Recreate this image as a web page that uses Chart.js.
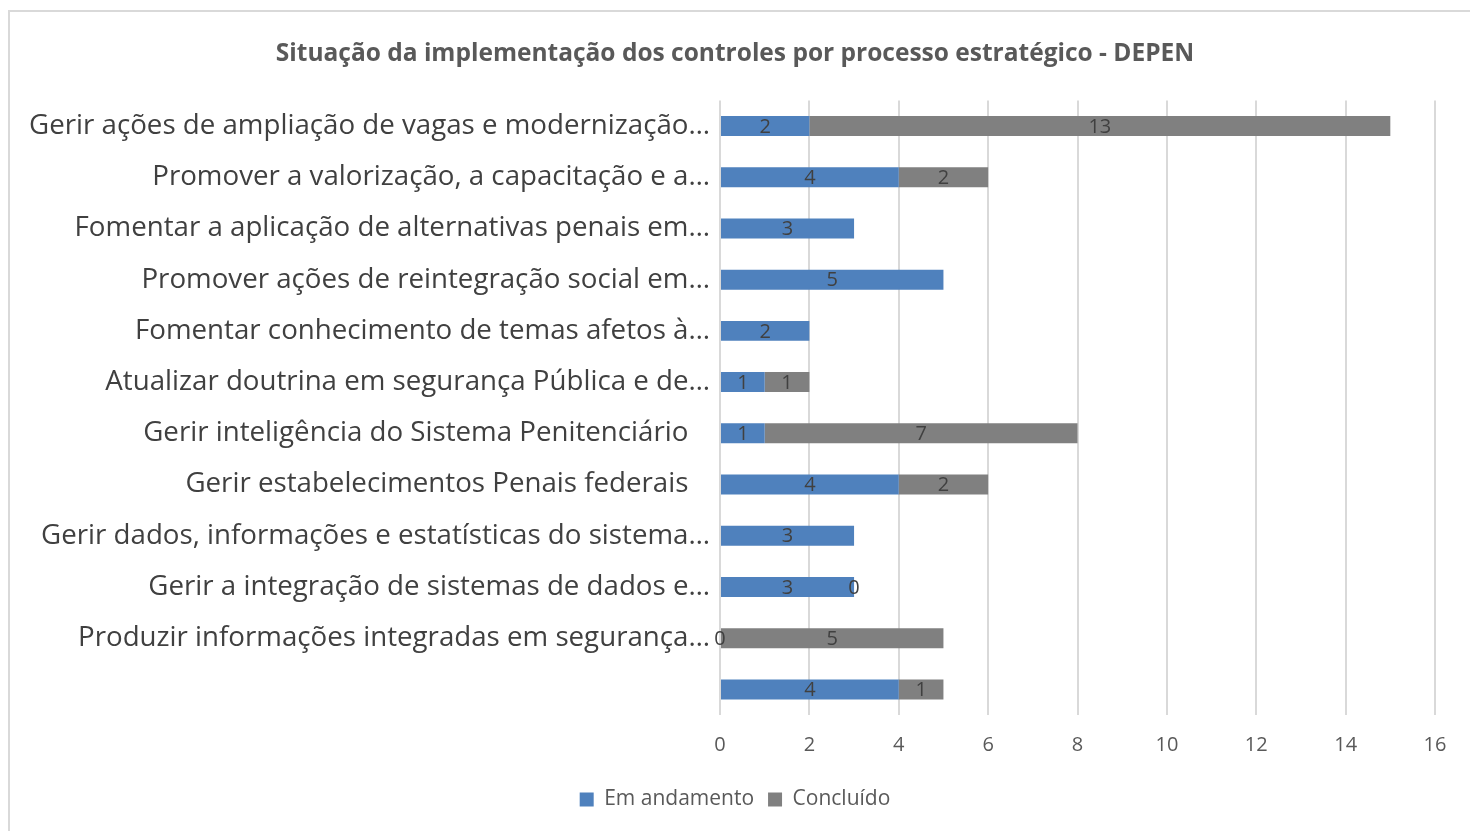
<!DOCTYPE html>
<html>
<head>
<meta charset="utf-8">
<script src="https://cdn.jsdelivr.net/npm/chart.js@4"></script>
<style>
    html, body { margin: 0; padding: 0; background: #ffffff; overflow: hidden; }
    #frame {
        position: absolute;
        left: 8px;
        top: 10px;
        width: 1480px;
        height: 840px;
        border: 2px solid #d9d9d9;
        box-sizing: border-box;
    }
    #wrap { position: absolute; left: 0; top: 0; width: 1470px; height: 831px; }
</style>
</head>
<body>
<div id="frame"></div>
<div id="wrap"><canvas id="chart" width="1470" height="831"></canvas></div>
<script>
// ==================== Data ====================

const categories = [
    'Gerir ações de ampliação de vagas e modernização…',
    'Promover a valorização, a capacitação e a…',
    'Fomentar a aplicação de alternativas penais em…',
    'Promover ações de reintegração social em…',
    'Fomentar conhecimento de temas afetos à…',
    'Atualizar doutrina em segurança Pública e de…',
    'Gerir inteligência do Sistema Penitenciário   ',
    'Gerir estabelecimentos Penais federais   ',
    'Gerir dados, informações e estatísticas do sistema…',
    'Gerir a integração de sistemas de dados e…',
    'Produzir informações integradas em segurança…',
    ''
];

const emAndamento = [2, 4, 3, 5, 2, 1, 1, 4, 3, 3, 0, 4];
const concluido = [13, 2, null, null, null, 1, 7, 2, null, 0, 5, 1];

const xTicks = [0, 2, 4, 6, 8, 10, 12, 14, 16];

const FONT = '"Open Sans", "Noto Sans", sans-serif';

// Labels centred on every bar segment
const segmentLabels = {
    id: 'segmentLabels',
    afterDatasetsDraw(chart) {
        const ctx = chart.ctx;
        ctx.save();
        ctx.font = '20px ' + FONT;
        ctx.fillStyle = '#404040';
        ctx.textAlign = 'center';
        ctx.textBaseline = 'middle';
        chart.data.datasets.forEach((ds, di) => {
            const meta = chart.getDatasetMeta(di);
            meta.data.forEach((bar, i) => {
                const v = ds.data[i];
                if (v === null || v === undefined) return;
                ctx.fillText(String(v), (bar.x + bar.base) / 2, bar.y + 1);
            });
        });
        ctx.restore();
    }
};

new Chart(document.getElementById('chart'), {
    type: 'bar',
    data: {
        labels: categories,
        datasets: [
            {
                label: 'Em andamento',
                data: emAndamento,
                backgroundColor: '#4f81bd',
                barPercentage: 0.78,
                categoryPercentage: 0.5
            },
            {
                label: 'Concluído',
                data: concluido,
                backgroundColor: '#808080',
                barPercentage: 0.78,
                categoryPercentage: 0.5
            }
        ]
    },
    options: {
        indexAxis: 'y',
        responsive: false,
        animation: false,
        layout: {
            padding: { left: 0, right: 0, top: 0, bottom: 11 }
        },
        plugins: {
            title: {
                display: true,
                text: 'Situação da implementação dos controles por processo estratégico - DEPEN',
                color: '#595959',
                font: { family: FONT, size: 24.5, weight: 'bold', lineHeight: 1.2 },
                padding: { top: 39, bottom: 32 }
            },
            legend: {
                position: 'bottom',
                labels: {
                    color: '#595959',
                    font: { family: FONT, size: 21 },
                    boxWidth: 14,
                    boxHeight: 14,
                    padding: 14
                }
            },
            tooltip: { enabled: false }
        },
        scales: {
            x: {
                stacked: true,
                min: 0,
                max: 16,
                afterBuildTicks(scale) {
                    scale.ticks = xTicks.map(v => ({ value: v }));
                },
                afterFit(scale) {
                    scale.paddingRight = 35;
                },
                grid: {
                    color: '#d9d9d9',
                    lineWidth: 2,
                    drawTicks: false
                },
                border: { display: false },
                ticks: {
                    color: '#595959',
                    font: { family: FONT, size: 20 },
                    padding: 18
                }
            },
            y: {
                stacked: true,
                afterFit(scale) {
                    scale.width = 720;
                },
                grid: { display: false },
                border: { display: false },
                ticks: {
                    color: '#404040',
                    font: { family: FONT, size: 27.7 },
                    padding: 2,
                    autoSkip: false
                }
            }
        }
    },
    plugins: [segmentLabels]
});
</script>
</body>
</html>
